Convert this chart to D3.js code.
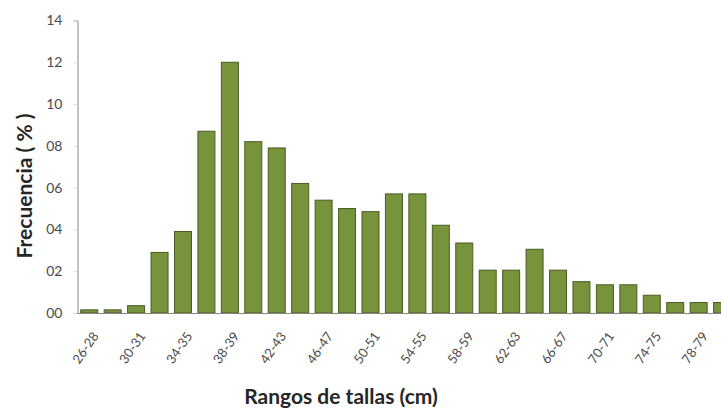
<!DOCTYPE html>
<html>
<head>
<meta charset="utf-8">
<script src="https://cdn.jsdelivr.net/npm/d3@7/dist/d3.min.js"></script>
<style>
  html, body { margin: 0; padding: 0; background: #fff; overflow: hidden; }
  svg { display: block; }
</style>
</head>
<body>
<svg id="chart" width="721" height="412"></svg>
<script>
const categories = ["26-28","28-29","30-31","32-33","34-35","36-37","38-39","40-41","42-43","44-45",
  "46-47","48-49","50-51","52-53","54-55","56-57","58-59","60-61","62-63","64-65",
  "66-67","68-69","70-71","72-73","74-75","76-77","78-79","80-81"];
const frecuencia = [0.15,0.15,0.35,2.9,3.9,8.7,12.0,8.2,7.9,6.2,
  5.4,5.0,4.85,5.7,5.7,4.2,3.35,2.05,2.05,3.05,
  2.05,1.5,1.35,1.35,0.85,0.5,0.5,0.5];
const yTicks = [0,2,4,6,8,10,12,14];
const yTitle = "Frecuencia ( % )";
const xTitle = "Rangos de tallas (cm)";

const svg = d3.select("#chart");
const mLeft = 77.5, mBottom = 313, mTop = 20.5;
const step = 23.44;

const x = d3.scaleBand()
  .domain(categories)
  .range([mLeft, mLeft + step * categories.length])
  .paddingInner(0.275)
  .paddingOuter(0.1375);

const y = d3.scaleLinear().domain([0, 14]).range([mBottom, mTop]);

const axisColor = "#868686";
const textColor = "#4a4a4a";
const fontFam = "Lato, 'Open Sans', sans-serif";

// bars
svg.append("g").selectAll("rect")
  .data(categories)
  .join("rect")
  .attr("x", d => x(d))
  .attr("y", (d, i) => y(frecuencia[i]))
  .attr("width", x.bandwidth())
  .attr("height", (d, i) => y(0) - y(frecuencia[i]))
  .attr("fill", "#77933C")
  .attr("stroke", "#4A5C24")
  .attr("stroke-width", 1);

// y axis
const yAxis = d3.axisLeft(y).tickValues(yTicks).tickFormat(d3.format("02d")).tickSize(4).tickPadding(11);
const gy = svg.append("g").attr("transform", `translate(${mLeft},0)`).call(yAxis);
gy.select(".domain").attr("stroke", axisColor);
gy.selectAll(".tick line").attr("stroke", "#d8d8d8");
gy.selectAll(".tick text")
  .attr("fill", textColor)
  .style("font-family", fontFam)
  .style("font-size", "14px");

// x axis
const xAxis = d3.axisBottom(x).tickSize(0).tickSizeOuter(0)
  .tickFormat((d, i) => (i % 2 === 0 ? d : ""));
const gx = svg.append("g").attr("transform", `translate(0,${mBottom})`).call(xAxis);
gx.select(".domain").attr("stroke", axisColor).attr("d", `M${mLeft},0.5H${mLeft + step * categories.length}`);
gx.selectAll(".tick text")
  .attr("fill", textColor)
  .style("font-family", fontFam)
  .style("font-size", "13px")
  .attr("text-anchor", "end")
  .attr("dy", null)
  .attr("y", 0)
  .attr("transform", "translate(10,23) rotate(-55)");

// titles
svg.append("text")
  .attr("transform", `translate(32,186) rotate(-90)`)
  .attr("text-anchor", "middle")
  .style("font-family", fontFam)
  .style("font-weight", "bold")
  .style("font-size", "21px")
  .attr("fill", "#262626")
  .text(yTitle);

svg.append("text")
  .attr("x", 341)
  .attr("y", 404)
  .attr("text-anchor", "middle")
  .style("font-family", fontFam)
  .style("font-weight", "bold")
  .style("font-size", "21px")
  .attr("fill", "#262626")
  .text(xTitle);
</script>
</body>
</html>
